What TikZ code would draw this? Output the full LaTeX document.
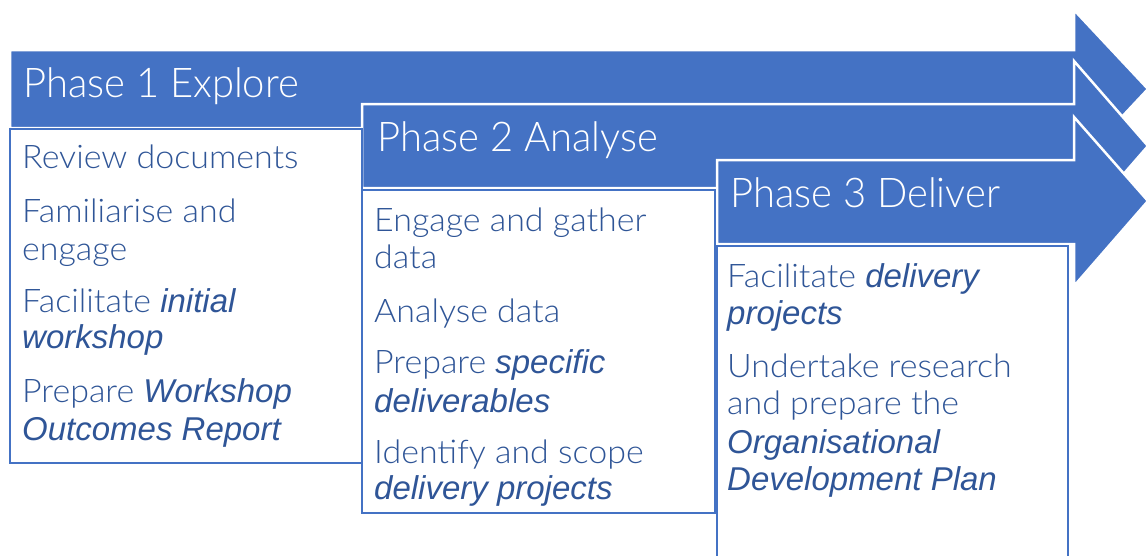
\documentclass[tikz,border=0pt]{standalone}
\usepackage{fontspec}
\newfontfamily\lightfont{Lato Light}[FakeStretch=1.045]
\newfontfamily\titlefont{Lato Light}[FakeStretch=0.975]
\newfontfamily\obliquefont{Liberation Sans Italic}
\definecolor{arrowblue}{HTML}{4472C4}
\definecolor{textblue}{HTML}{2F5597}
\newcommand\headfont{\titlefont\fontsize{41}{48}\selectfont}
\newcommand\itemfont{\lightfont\fontsize{32.5}{38}\selectfont}
\newcommand\ital[1]{{\obliquefont\fontsize{33}{38}\selectfont #1}}
\begin{document}
\begin{tikzpicture}[x=1pt,y=-1pt,
  phasearrow/.style={fill=arrowblue, draw=white, line width=2.5pt, line join=miter},
  itembox/.style={draw=arrowblue, line width=2pt, fill=white},
  heading/.style={anchor=base west, inner sep=0pt, text=white, font=\headfont},
  item/.style={anchor=base west, inner sep=0pt, text=textblue, font=\itemfont}]
\useasboundingbox (0,0) rectangle (1147,555);
\clip (0,0) rectangle (1147,555);

% phase arrows, back to front
\draw[phasearrow] (10,50) -- (1074,50) -- (1074,10) -- (1148,89)
  -- (1074,168) -- (1074,128) -- (10,128) -- cycle;
\draw[phasearrow] (362,104) -- (1074,104) -- (1074,61) -- (1148,146)
  -- (1074,231) -- (1074,188) -- (362,188) -- cycle;
\draw[phasearrow] (717,160) -- (1074,160) -- (1074,117) -- (1148,201)
  -- (1074,286) -- (1074,244) -- (717,244) -- cycle;

% activity boxes under each phase
\draw[itembox] (10,129) rectangle (362,463);
\draw[itembox] (362,190) rectangle (715,513);
\draw[itembox] (717,246) rectangle (1068,570);

% phase titles
\node[heading] (h1) at (23,97)  {Phase 1 Explore};
\node[heading] (h2) at (377,151) {Phase 2 Analyse};
\node[heading] (h3) at (730,207) {Phase 3 Deliver};

% phase 1 activities
\node[item] (a1) at (22,168) {Review documents};
\node[item] (a2) at (22,222) {Familiarise and};
\node[item] (a3) at (22,260) {engage};
\node[item] (a4) at (22,312) {Facilitate \ital{initial}};
\node[item] (a5) at (22,348) {\ital{workshop}};
\node[item] (a6) at (22,402) {Prepare \ital{Workshop}};
\node[item] (a7) at (22,440) {\ital{Outcomes Report}};

% phase 2 activities
\node[item] (b1) at (374,231) {Engage and gather};
\node[item] (b2) at (374,268) {data};
\node[item] (b3) at (374,322) {Analyse data};
\node[item] (b4) at (374,373) {Prepare \ital{specific}};
\node[item] (b5) at (374,412) {\ital{deliverables}};
\node[item] (b6) at (374,463) {Identify and scope};
\node[item] (b7) at (374,499) {\ital{delivery projects}};

% phase 3 activities
\node[item] (c1) at (727,287) {Facilitate \ital{delivery}};
\node[item] (c2) at (727,324) {\ital{projects}};
\node[item] (c3) at (727,377) {Undertake research};
\node[item] (c4) at (727,414) {and prepare the};
\node[item] (c5) at (727,453) {\ital{Organisational}};
\node[item] (c6) at (727,490) {\ital{Development Plan}};
\end{tikzpicture}
\end{document}
